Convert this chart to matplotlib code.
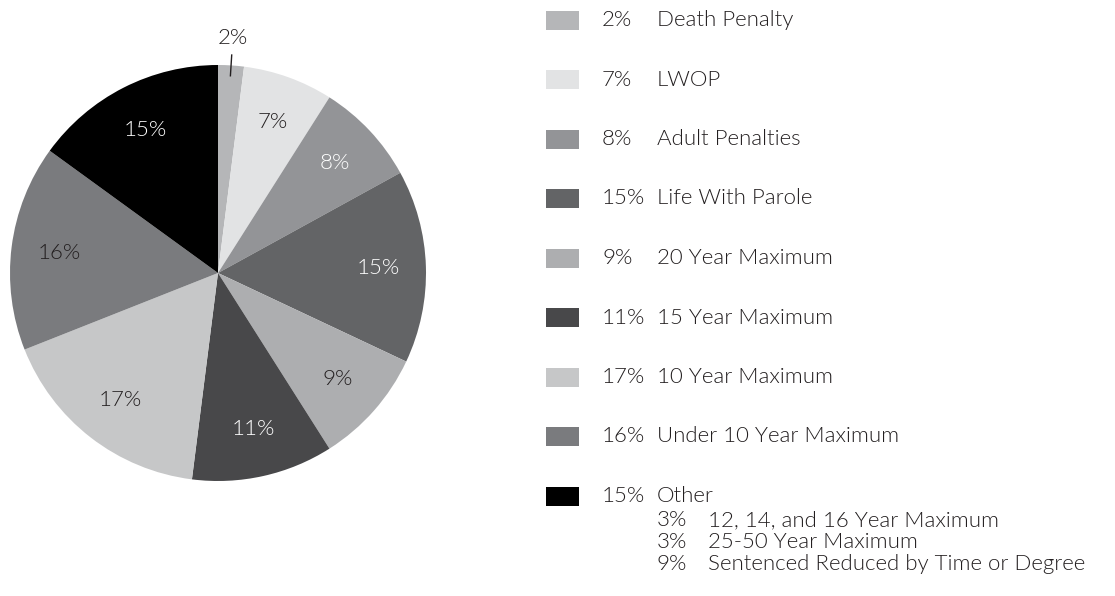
import numpy as np
import matplotlib.pyplot as plt
from matplotlib.patches import Rectangle

plt.rcParams['font.family'] = ['Lato', 'DejaVu Sans']
plt.rcParams['font.weight'] = 300

# slices, clockwise from 12 o'clock
labels = ['Death Penalty', 'LWOP', 'Adult Penalties', 'Life With Parole',
          '20 Year Maximum', '15 Year Maximum', '10 Year Maximum',
          'Under 10 Year Maximum', 'Other']
values = [2, 7, 8, 15, 9, 11, 17, 16, 15]
colors = ['#b5b6b8', '#e2e3e4', '#939497', '#636466', '#adaeb0',
          '#48484a', '#c6c7c8', '#7a7b7e', '#000000']
text_colors = ['#231f20', '#231f20', 'white', 'white', '#231f20',
               'white', '#231f20', '#231f20', 'white']

# breakdown of "Other"
other_labels = ['12, 14, and 16 Year Maximum', '25-50 Year Maximum',
                'Sentenced Reduced by Time or Degree']
other_values = [3, 3, 9]

W, H = 1115, 596
fig = plt.figure(figsize=(W / 100, H / 100), dpi=100)

# pie
cx, cy, r = 218, 273, 208
ax = fig.add_axes([(cx - r) / W, (H - cy - r) / H, 2 * r / W, 2 * r / H])
wedges, _ = ax.pie(values, colors=colors, startangle=90, counterclock=False,
                   radius=1, wedgeprops=dict(linewidth=0))
ax.set_xlim(-1, 1)
ax.set_ylim(-1, 1)
ax.set_aspect('equal')
ax.axis('off')

fs = 16
for i, w in enumerate(wedges):
    ang = np.deg2rad((w.theta1 + w.theta2) / 2)
    txt = f'{values[i]}%'
    if values[i] < 5:
        ax.text(1.13 * np.cos(ang), 1.13 * np.sin(ang), txt, ha='center', va='center',
                fontsize=fs, color='#231f20', clip_on=False)
        ax.plot([0.95 * np.cos(ang), 1.05 * np.cos(ang)],
                [0.95 * np.sin(ang), 1.05 * np.sin(ang)],
                color='#231f20', lw=1, clip_on=False)
    else:
        ax.text(0.77 * np.cos(ang), 0.77 * np.sin(ang), txt, ha='center', va='center',
                fontsize=fs, color=text_colors[i])

# legend, drawn in pixel coordinates
lg = fig.add_axes([0, 0, 1, 1])
lg.set_xlim(0, W)
lg.set_ylim(H, 0)
lg.axis('off')

row0, step = 20, 59.5
for i, lab in enumerate(labels):
    y = row0 + i * step
    lg.add_patch(Rectangle((546, y - 9.5), 33, 19, color=colors[i], lw=0))
    lg.text(602, y, f'{values[i]}%', ha='left', va='center', fontsize=fs,
            color='#231f20')
    lg.text(657, y, lab, ha='left', va='center', fontsize=fs,
            color='#231f20')

y_sub = row0 + len(labels) * step - 35
for j, lab in enumerate(other_labels):
    y = y_sub + j * 22
    lg.text(657, y, f'{other_values[j]}%', ha='left', va='center', fontsize=fs,
            color='#231f20')
    lg.text(708, y, lab, ha='left', va='center', fontsize=fs,
            color='#231f20')

fig.savefig('out.png', dpi=100, facecolor='white')
